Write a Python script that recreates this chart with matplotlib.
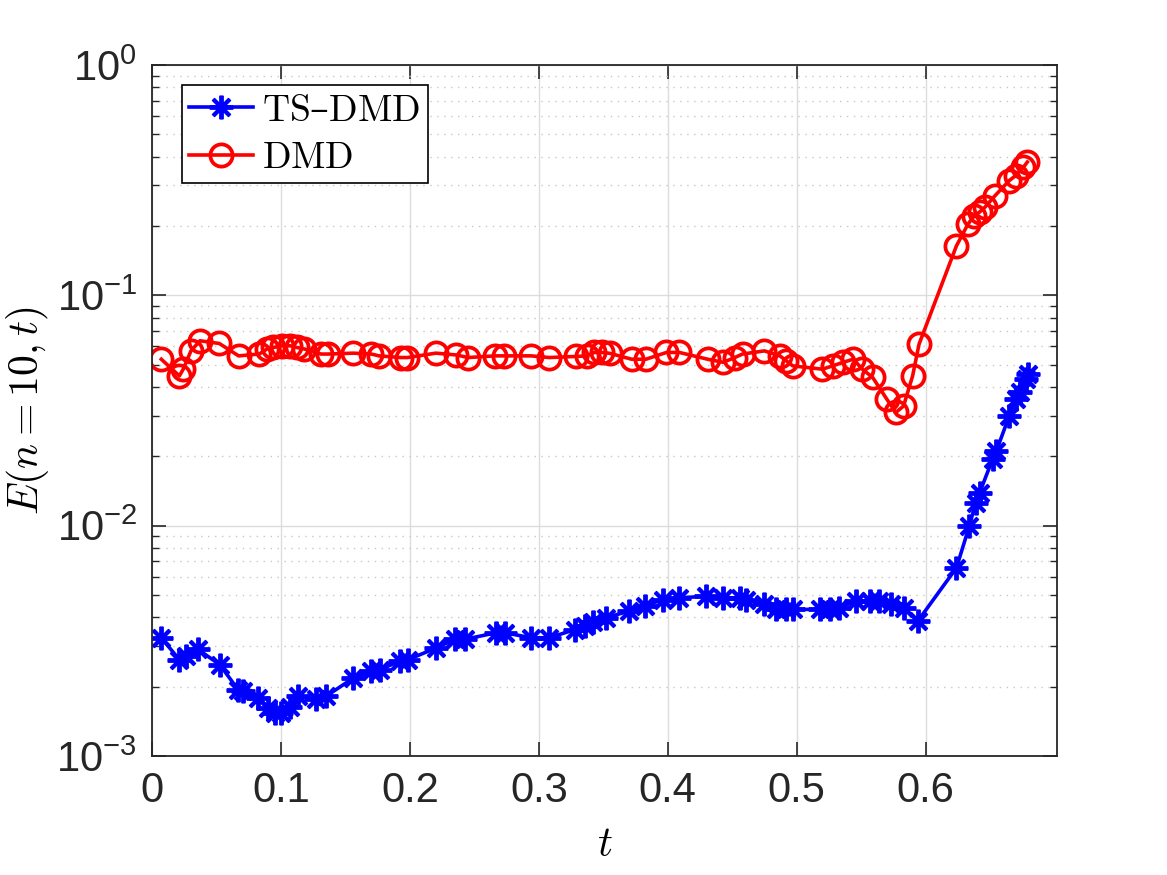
import matplotlib
matplotlib.use("Agg")
import matplotlib.pyplot as plt
import numpy as np
from matplotlib.ticker import LogLocator, NullFormatter, FixedLocator

plt.rcParams['font.family'] = ['Liberation Sans', 'DejaVu Sans']
plt.rcParams['mathtext.fontset'] = 'custom'
plt.rcParams['mathtext.rm'] = 'Liberation Sans'
plt.rcParams['mathtext.it'] = 'Liberation Sans:italic'

# TS-DMD error
t_ts = [0.007, 0.021, 0.0265, 0.0356, 0.0524, 0.0666, 0.070, 0.082, 0.090, 0.095,
        0.100, 0.1067, 0.113, 0.127, 0.135, 0.156, 0.170, 0.1765, 0.192, 0.1985,
        0.2205, 0.2347, 0.2424, 0.267, 0.2735, 0.294, 0.308, 0.328, 0.336, 0.342,
        0.352, 0.370, 0.382, 0.396, 0.409, 0.430, 0.443, 0.456, 0.461, 0.475,
        0.484, 0.492, 0.497, 0.518, 0.526, 0.533, 0.546, 0.557, 0.564, 0.573,
        0.583, 0.594, 0.624, 0.634, 0.639, 0.642, 0.652, 0.655, 0.665, 0.6705,
        0.673, 0.678, 0.6795]
err_ts = [0.00326, 0.00262, 0.00271, 0.00290, 0.00249, 0.00194, 0.00192, 0.00179, 0.00162, 0.00154,
          0.00154, 0.00164, 0.00182, 0.00176, 0.00182, 0.00218, 0.00233, 0.00237, 0.00258, 0.00262,
          0.00295, 0.00321, 0.00321, 0.00343, 0.00343, 0.00326, 0.00326, 0.00354, 0.00366, 0.00380,
          0.00398, 0.00426, 0.00447, 0.00478, 0.00486, 0.00494, 0.00486, 0.00486, 0.00478, 0.00455,
          0.00433, 0.00433, 0.00433, 0.00433, 0.00433, 0.00440, 0.00470, 0.00470, 0.00470, 0.00455,
          0.00440, 0.00385, 0.00656, 0.00996, 0.0126, 0.0139, 0.0194, 0.0211, 0.0300, 0.0354,
          0.0379, 0.0433, 0.0455]

# DMD error
t_dmd = [0.007, 0.021, 0.024, 0.030, 0.037, 0.052, 0.067, 0.083, 0.089, 0.094,
         0.101, 0.107, 0.112, 0.118, 0.131, 0.136, 0.156, 0.170, 0.176, 0.193,
         0.198, 0.220, 0.236, 0.245, 0.266, 0.273, 0.294, 0.308, 0.329, 0.337,
         0.343, 0.349, 0.355, 0.372, 0.383, 0.399, 0.409, 0.431, 0.443, 0.452,
         0.458, 0.475, 0.487, 0.492, 0.497, 0.520, 0.528, 0.536, 0.544, 0.551,
         0.559, 0.570, 0.577, 0.583, 0.590, 0.595, 0.624, 0.633, 0.638, 0.642,
         0.646, 0.654, 0.665, 0.670, 0.676, 0.679]
err_dmd = [0.0528, 0.0447, 0.0478, 0.0574, 0.0635, 0.0618, 0.0546, 0.0556, 0.0585, 0.0594,
           0.0604, 0.0604, 0.0594, 0.0585, 0.0556, 0.0556, 0.0561, 0.0556, 0.0546, 0.0537,
           0.0537, 0.0561, 0.0551, 0.0537, 0.0546, 0.0546, 0.0546, 0.0537, 0.0543, 0.0546,
           0.0565, 0.0565, 0.0560, 0.0528, 0.0528, 0.0565, 0.0565, 0.0528, 0.0512, 0.0537,
           0.0556, 0.0574, 0.0546, 0.0520, 0.0494, 0.0478, 0.0494, 0.0512, 0.0528, 0.0478,
           0.0440, 0.0354, 0.0310, 0.0331, 0.0447, 0.0614, 0.164, 0.204, 0.222, 0.230,
           0.241, 0.271, 0.315, 0.331, 0.360, 0.379]

x_ticks = [0, 0.1, 0.2, 0.3, 0.4, 0.5, 0.6]
x_labels = ['0', '0.1', '0.2', '0.3', '0.4', '0.5', '0.6']

fig = plt.figure(figsize=(11.67, 8.75), dpi=100)
ax = fig.add_axes([0.1305, 0.136, 0.7752, 0.7897])

asterisk = (8, 2, 0)
ax.semilogy(t_ts, err_ts, color=(0, 0, 1), lw=2.6, marker=asterisk, ms=17,
            mew=2.8, label=r'$\mathrm{TS}$' + '\u2013' + r'$\mathrm{DMD}$')
ax.semilogy(t_dmd, err_dmd, color=(1, 0, 0), lw=2.6, marker='o', ms=16,
            mfc='none', mew=2.7, label=r'$\mathrm{DMD}$')

ax.set_xlim(0, 0.702)
ax.set_ylim(1e-3, 1e0)
ax.xaxis.set_major_locator(FixedLocator(x_ticks))
ax.set_xticklabels(x_labels)
ax.yaxis.set_major_locator(LogLocator(base=10, numticks=10))
ax.yaxis.set_minor_locator(LogLocator(base=10, subs=np.arange(2, 10), numticks=20))
ax.yaxis.set_minor_formatter(NullFormatter())

ax.grid(True, which='major', color='#dcdcdc', lw=1.0, ls='-')
ax.grid(True, which='minor', axis='y', color='#c8c8c8', lw=1.0, ls=(0, (1, 4)))
ax.set_axisbelow(True)

ax.tick_params(which='both', direction='in', top=True, right=True,
               colors='#262626', labelcolor='#262626')
ax.tick_params(which='major', length=10, width=1.2, labelsize=30)
ax.tick_params(axis='x', which='major', pad=11)
ax.tick_params(axis='y', which='major', pad=11)
ax.tick_params(which='minor', length=5, width=1.0)
for s in ax.spines.values():
    s.set_color('#262626')
    s.set_linewidth(1.3)

ax.set_xlabel(r'$t$', fontsize=30, math_fontfamily='cm', labelpad=10)
ax.set_ylabel(r'$E(n=10,t)$', fontsize=30, math_fontfamily='cm', labelpad=4)

leg = ax.legend(loc='upper left', bbox_to_anchor=(0.0325, 0.971), borderaxespad=0,
                fancybox=False, edgecolor='black', framealpha=1,
                handlelength=1.7, handletextpad=0.25, borderpad=0.2, labelspacing=0.3,
                prop={'size': 27, 'family': 'DejaVu Serif', 'math_fontfamily': 'cm'})
leg.get_frame().set_linewidth(1.2)

fig.savefig('out.png', dpi=100)
